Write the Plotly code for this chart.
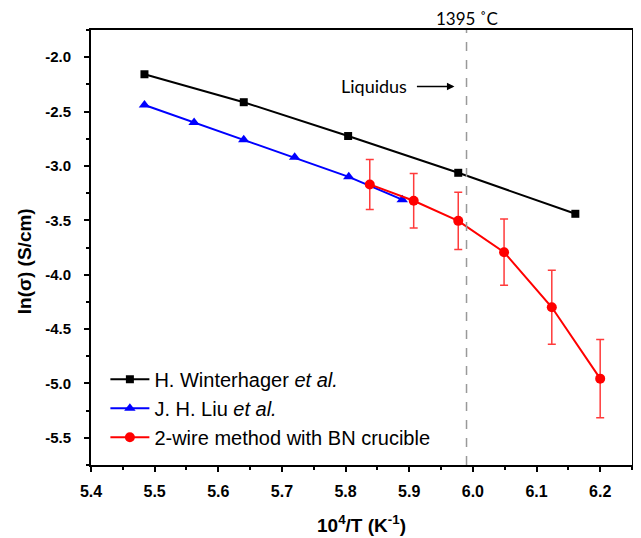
import plotly.graph_objects as go

# Data
wint_x = [5.484, 5.640, 5.804, 5.977, 6.161]
wint_y = [-2.157, -2.414, -2.725, -3.063, -3.440]

liu_x = [5.484, 5.562, 5.640, 5.720, 5.805, 5.889]
liu_y = [-2.44, -2.60, -2.76, -2.92, -3.10, -3.31]

bn_x = [5.838, 5.907, 5.977, 6.049, 6.124, 6.200]
bn_y = [-3.17, -3.32, -3.505, -3.793, -4.30, -4.956]
bn_err = [0.23, 0.25, 0.264, 0.305, 0.34, 0.36]

liquidus_x = 5.99

x_ticks = [5.4, 5.5, 5.6, 5.7, 5.8, 5.9, 6.0, 6.1, 6.2]
y_ticks = [-2.0, -2.5, -3.0, -3.5, -4.0, -4.5, -5.0, -5.5]

FONT = "Liberation Sans, Arial"

fig = go.Figure()
fig.add_trace(go.Scatter(
    x=wint_x, y=wint_y, mode="lines+markers",
    name="H. Winterhager <i>et al.</i>",
    line=dict(color="black", width=2),
    marker=dict(symbol="square", size=8, color="black"),
))
fig.add_trace(go.Scatter(
    x=liu_x, y=liu_y, mode="lines+markers",
    name="J. H. Liu <i>et al.</i>",
    line=dict(color="#0000ff", width=2),
    marker=dict(symbol="triangle-up", size=10, color="#0000ff"),
))
fig.add_trace(go.Scatter(
    x=bn_x, y=bn_y, mode="lines+markers",
    name="2-wire method with BN crucible",
    line=dict(color="#ff0000", width=2),
    marker=dict(symbol="circle", size=10, color="#ff0000"),
    error_y=dict(type="data", array=bn_err, visible=True, color="#ff3b3b", thickness=1.5, width=4),
))

fig.add_shape(type="line", xref="x", yref="paper", x0=liquidus_x, x1=liquidus_x, y0=0, y1=1,
              line=dict(color="#999999", width=1.5, dash="dash"))

fig.add_annotation(x=liquidus_x, y=1, xref="x", yref="paper", yanchor="middle", yshift=12,
                   text="1395 ˚C", showarrow=False,
                   font=dict(family="Lato, Open Sans", size=17, color="black"))
fig.add_annotation(x=5.971, y=-2.27, xref="x", yref="y", text="",
                   showarrow=True, ax=-39, ay=0, arrowhead=2, arrowsize=1, arrowwidth=1.5,
                   arrowcolor="black")
fig.add_annotation(x=5.845, y=-2.264, xref="x", yref="y", text="Liquidus",
                   showarrow=False, xanchor="center",
                   font=dict(family="Lato, Open Sans", size=18, color="black"))

# y-axis title placed as a rotated annotation (sits slightly below plot centre)
fig.add_annotation(x=0, y=-3.876, xref="paper", yref="y", xshift=-67,
                   text="<b>ln(σ) (S/cm)</b>", textangle=-90, showarrow=False,
                   xanchor="center", yanchor="middle",
                   font=dict(family=FONT, size=19, color="black"))

axis_common = dict(
    showline=True, linecolor="black", linewidth=2, mirror=True,
    ticks="outside", ticklen=5, tickwidth=1.5, tickcolor="black",
    showgrid=False, zeroline=False, automargin=False,
)

fig.update_xaxes(range=[5.4, 6.25], tickvals=x_ticks,
                 ticktext=[f"<b>{v:.1f}</b>" for v in x_ticks],
                 tickfont=dict(family=FONT, size=16, color="black"),
                 minor=dict(dtick=0.05, tick0=5.4, ticks="outside", ticklen=3, tickcolor="black"),
                 ticklabelstandoff=6,
                 title_text="<b>10<sup>4</sup>/T (K<sup>-1</sup>)</b>",
                 title_font=dict(family=FONT, size=19, color="black"),
                 title_standoff=19, **axis_common)
fig.update_yaxes(range=[-5.75, -1.75], tickvals=y_ticks,
                 ticktext=[f"<b>{v:.1f}</b>" for v in y_ticks],
                 tickfont=dict(family=FONT, size=15, color="black"),
                 minor=dict(dtick=0.25, tick0=-2.0, ticks="outside", ticklen=3, tickcolor="black"),
                 ticklabelstandoff=10, **axis_common)

# The page body has an 8px default margin, so the figure is offset by 8px.
fig.update_layout(
    width=633, height=530,
    margin=dict(l=83, r=9, t=22, b=73),
    plot_bgcolor="white", paper_bgcolor="white",
    showlegend=True,
    legend=dict(x=0.0266, y=0.019, xanchor="left", yanchor="bottom",
                itemwidth=39,
                bgcolor="rgba(0,0,0,0)",
                font=dict(family=FONT, size=20, color="black")),
)

fig.write_html("out.html")
